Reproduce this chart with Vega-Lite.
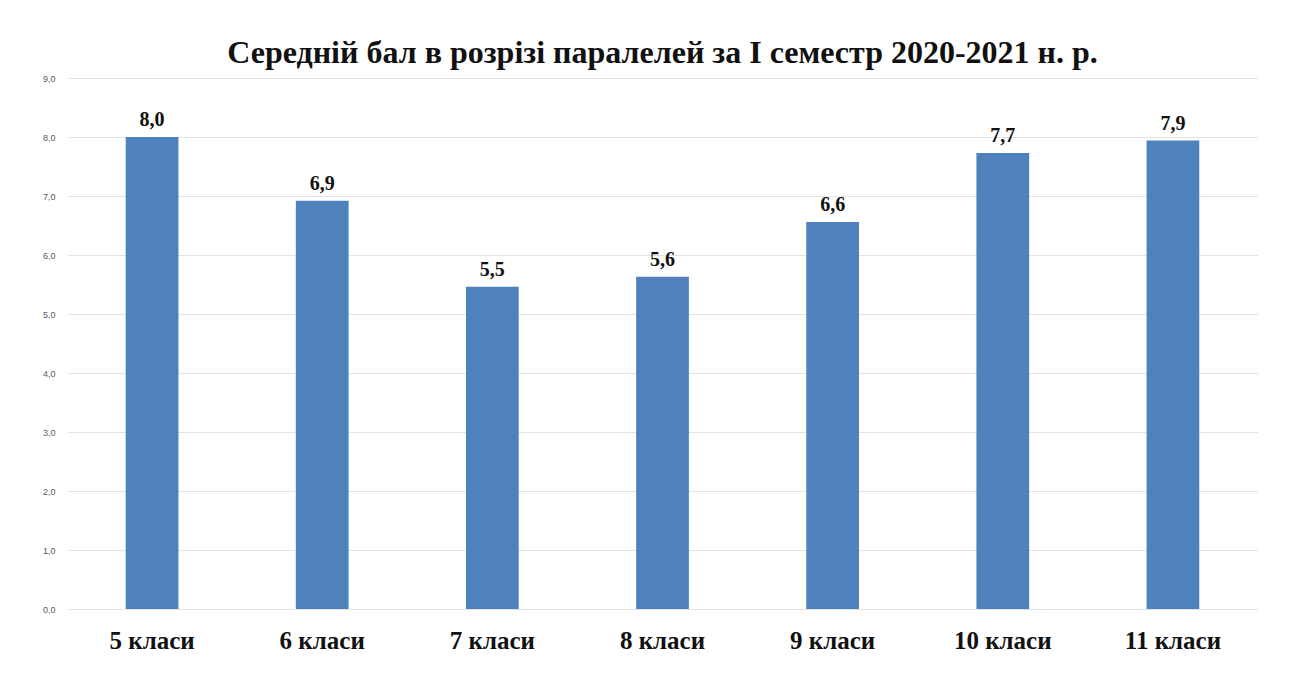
{
  "$schema": "https://vega.github.io/schema/vega-lite/v6.json",
  "autosize": "none",
  "width": 1191,
  "height": 531,
  "padding": {"left": 67, "top": 78, "right": 36, "bottom": 64},
  "background": "white",
  "config": {
    "locale": {"number": {"decimal": ",", "thousands": " ", "grouping": [3], "currency": ["", " грн"]}},
    "view": {"stroke": null}
  },
  "title": {
    "text": "Середній бал в розрізі паралелей за І семестр 2020-2021 н. р.",
    "font": "Liberation Serif",
    "fontSize": 32,
    "fontWeight": "bold",
    "color": "#111111",
    "anchor": "middle",
    "offset": 4
  },
  "data": {
    "values": [
      {"class": "5 класи", "score": 8.0},
      {"class": "6 класи", "score": 6.92},
      {"class": "7 класи", "score": 5.46},
      {"class": "8 класи", "score": 5.63},
      {"class": "9 класи", "score": 6.56},
      {"class": "10 класи", "score": 7.73},
      {"class": "11 класи", "score": 7.94}
    ]
  },
  "encoding": {
    "x": {
      "field": "class",
      "type": "nominal",
      "sort": null,
      "scale": {"paddingInner": 0.69, "paddingOuter": 0.345},
      "axis": {
        "title": null,
        "labelAngle": 0,
        "domain": false,
        "ticks": false,
        "labelFont": "Liberation Serif",
        "labelFontSize": 25,
        "labelFontWeight": "bold",
        "labelColor": "#111111",
        "labelPadding": 19
      }
    },
    "y": {
      "field": "score",
      "type": "quantitative",
      "scale": {"domain": [0, 9], "nice": false},
      "axis": {
        "title": null,
        "values": [0, 1, 2, 3, 4, 5, 6, 7, 8, 9],
        "format": ".1f",
        "domain": false,
        "ticks": false,
        "labelFont": "Liberation Sans",
        "labelFontSize": 9,
        "labelColor": "#595959",
        "labelPadding": 12,
        "gridColor": "#e3e3e3",
        "gridWidth": 1
      }
    }
  },
  "layer": [
    {"mark": {"type": "bar", "color": "#4f81bd"}},
    {
      "mark": {
        "type": "text",
        "baseline": "alphabetic",
        "dy": -11,
        "font": "Liberation Serif",
        "fontSize": 20,
        "fontWeight": "bold",
        "color": "#111111"
      },
      "encoding": {"text": {"field": "score", "type": "quantitative", "format": ".1f"}}
    }
  ]
}
